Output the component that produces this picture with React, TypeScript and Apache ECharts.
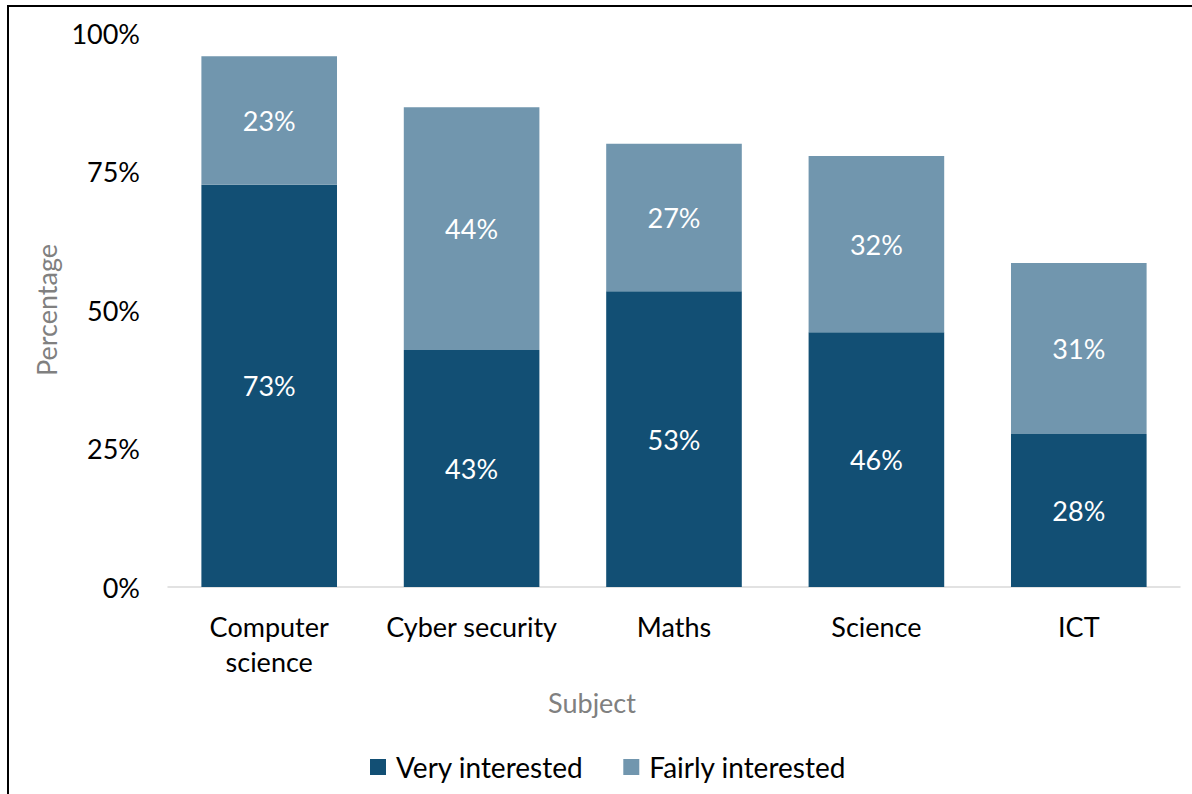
import React, { useEffect, useRef } from "react";
import * as echarts from "echarts";

const categories = ["Computer\nscience", "Cyber security", "Maths", "Science", "ICT"];
const veryInterested = [72.6, 42.8, 53.4, 46.0, 27.6];
const fairlyInterested = [23.2, 43.8, 26.6, 31.8, 30.9];
const yTicks = [0, 25, 50, 75, 100];

const FONT = "Lato, 'Open Sans', sans-serif";
const DARK = "#124F74";
const LIGHT = "#7196AE";

export default function App() {
  const ref = useRef<HTMLDivElement>(null);
  useEffect(() => {
    if (!ref.current) return;
    const chart = echarts.init(ref.current, undefined, { renderer: "svg" });
    const label = {
      show: true,
      position: "inside",
      color: "#fff",
      fontSize: 27,
      fontFamily: FONT,
      formatter: (p: any) => Math.round(p.value) + "%",
    };
    chart.setOption({
      animation: false,
      backgroundColor: "#fff",
      textStyle: { fontFamily: FONT },
      grid: { left: 168, right: 12, top: 33, bottom: 207, containLabel: false },
      graphic: [
        {
          type: "rect",
          shape: { x: 8, y: 6, width: 1200, height: 800 },
          style: { fill: "none", stroke: "#000", lineWidth: 2 },
          silent: true,
        },
        {
          type: "text",
          x: 592,
          y: 702,
          style: {
            text: "Subject",
            fill: "#808080",
            fontSize: 27,
            fontFamily: FONT,
            align: "center",
            verticalAlign: "middle",
          },
        },
      ],
      legend: {
        left: 365,
        top: 748,
        itemWidth: 16,
        itemHeight: 16,
        itemGap: 40,
        icon: "rect",
        textStyle: {
          fontSize: 28,
          color: "#000",
          fontFamily: FONT,
          padding: [0, 0, 0, 5],
        },
        data: ["Very interested", "Fairly interested"],
      },
      xAxis: {
        type: "category",
        data: categories,
        axisLine: { lineStyle: { color: "#D9D9D9", width: 1.5 } },
        axisTick: { show: false },
        axisLabel: {
          fontSize: 27,
          color: "#000",
          lineHeight: 35,
          margin: 22,
          fontFamily: FONT,
          interval: 0,
        },
      },
      yAxis: {
        type: "value",
        min: yTicks[0],
        max: yTicks[yTicks.length - 1],
        interval: 25,
        name: "Percentage",
        nameLocation: "middle",
        nameGap: 104,
        nameTextStyle: { color: "#808080", fontSize: 27, fontFamily: FONT },
        axisLine: { show: false },
        axisTick: { show: false },
        splitLine: { show: false },
        axisLabel: {
          fontSize: 27,
          color: "#000",
          margin: 28,
          fontFamily: FONT,
          formatter: "{value}%",
        },
      },
      series: [
        {
          name: "Very interested",
          type: "bar",
          stack: "total",
          barWidth: "67%",
          data: veryInterested,
          itemStyle: { color: DARK },
          label,
        },
        {
          name: "Fairly interested",
          type: "bar",
          stack: "total",
          barWidth: "67%",
          data: fairlyInterested,
          itemStyle: { color: LIGHT },
          label,
        },
      ],
    });
    return () => chart.dispose();
  }, []);
  return (
    <div
      ref={ref}
      style={{ position: "absolute", left: 0, top: 0, width: 1192, height: 794 }}
    />
  );
}
